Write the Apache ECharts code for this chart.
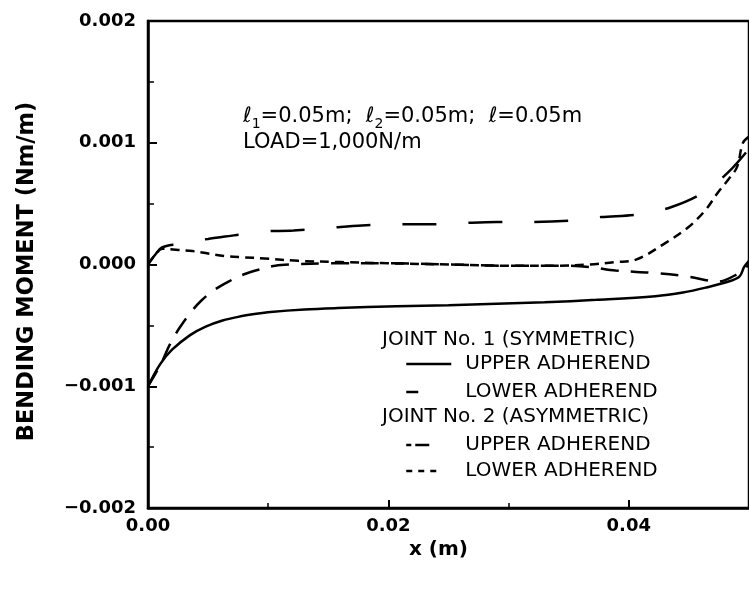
<!DOCTYPE html>
<html><head><meta charset="utf-8">
<script src="https://cdn.jsdelivr.net/npm/echarts@6/dist/echarts.min.js"></script>
<style>html,body{margin:0;padding:0;background:#fff}#c{width:749px;height:590px}</style>
</head><body><div id="c"></div>
<script>
// ---- tick labels ----
const xTickLabels = ['0.00', '0.02', '0.04'];
const yTickLabels = ['\u22120.002', '\u22120.001', '0.000', '0.001', '0.002'];

// ---- Joint No. 1 (symmetric), upper adherend ----
const j1UpperX = [0, 0.001, 0.002, 0.0035, 0.0048, 0.0062, 0.0075, 0.009, 0.0102, 0.013, 0.0158, 0.0207, 0.025, 0.029, 0.033, 0.0373, 0.0422, 0.0445, 0.0464, 0.0483, 0.0492, 0.0496, 0.05];
const j1UpperY = [-0.001, -0.00082, -0.0007, -0.00058, -0.00051, -0.00046, -0.00043, -0.000405, -0.00039, -0.00037, -0.000358, -0.000342, -0.000334, -0.000322, -0.00031, -0.00029, -0.00026, -0.00023, -0.00019, -0.00014, -0.0001, -0.00002, 0.00003];

// ---- Joint No. 1 (symmetric), lower adherend ----
const j1LowerX = [0, 0.0006, 0.00116, 0.0018, 0.00256, 0.0035, 0.0044, 0.0055, 0.0067, 0.008, 0.0093, 0.0106, 0.0119, 0.015, 0.02, 0.025, 0.03, 0.0345, 0.0367, 0.0389, 0.0422, 0.045, 0.0474, 0.049, 0.05];
const j1LowerY = [-0.001, -0.0009, -0.0008, -0.00066, -0.00053, -0.0004, -0.0003, -0.00021, -0.00014, -0.00008, -0.00004, -0.00001, 0.0, 0.00001, 0.00001, 0.0, -0.00001, -0.00001, -0.00002, -0.00005, -0.00007, -0.0001, -0.00014, -0.00008, 0.0];

// ---- Joint No. 2 (asymmetric), upper adherend ----
const j2UpperX = [0, 0.0006, 0.00116, 0.0025, 0.0036, 0.005, 0.0064, 0.008, 0.0093, 0.0121, 0.015, 0.0178, 0.0206, 0.0236, 0.026, 0.029, 0.032, 0.035, 0.0377, 0.0407, 0.0435, 0.0462, 0.0483, 0.05];
const j2UpperY = [0, 0.00008, 0.00014, 0.00017, 0.00019, 0.00021, 0.00023, 0.00025, 0.00027, 0.00028, 0.0003, 0.00032, 0.00033, 0.00033, 0.00034, 0.00035, 0.00035, 0.00036, 0.00039, 0.00041, 0.00047, 0.00059, 0.00076, 0.00095];

// ---- Joint No. 2 (asymmetric), lower adherend ----
const j2LowerX = [0, 0.0006, 0.0012, 0.0025, 0.0037, 0.005, 0.0064, 0.0078, 0.0097, 0.0125, 0.016, 0.02, 0.025, 0.03, 0.034, 0.0367, 0.0389, 0.0406, 0.0431, 0.045, 0.0464, 0.0474, 0.0483, 0.049, 0.0495, 0.05];
const j2LowerY = [0, 0.00008, 0.00013, 0.00012, 0.00011, 0.00009, 0.00007, 0.00006, 0.00005, 0.00003, 0.00002, 0.00001, 0.0, -0.00001, -0.00001, 0.0, 0.00002, 0.00004, 0.00018, 0.00031, 0.00045, 0.00059, 0.0007, 0.0008, 0.001, 0.00105];

const seriesNames = ['J1 UPPER ADHEREND', 'J1 LOWER ADHEREND', 'J2 UPPER ADHEREND', 'J2 LOWER ADHEREND'];
const legendText = ['UPPER ADHEREND', 'LOWER ADHEREND', 'UPPER ADHEREND', 'LOWER ADHEREND'];
const headings = ['JOINT No. 1 (SYMMETRIC)', 'JOINT No. 2 (ASYMMETRIC)'];
const annotation = ['=0.05m;  ', '=0.05m;  ', '=0.05m', 'LOAD=1,000N/m'];

function pairs(xs, ys) { return xs.map((x, i) => [x, ys[i]]); }

const chart = echarts.init(document.getElementById('c'), null, {renderer: 'canvas'});
const FONT = 'DejaVu Sans';
const lineBase = {type: 'line', symbol: 'none', smooth: 0.35, clip: true, color: '#000'};

function legendFor(i, top, dash) {
  return {
    orient: 'vertical', left: 405, top: top, itemWidth: 54, itemHeight: 14, padding: 0,
    selectedMode: false,
    itemStyle: {opacity: 0},
    lineStyle: {color: '#000', width: 2.5, type: dash},
    textStyle: {fontFamily: FONT, fontSize: 20, color: '#000', lineHeight: 21},
    formatter: (n) => legendText[seriesNames.indexOf(n)],
    data: [seriesNames[i]]
  };
}

chart.setOption({
  animation: false,
  backgroundColor: '#fff',
  grid: {left: 148, top: 21, right: -5, bottom: 82, show: true, borderColor: '#000', borderWidth: 2.5, backgroundColor: 'transparent'},
  xAxis: {
    type: 'value', min: 0, max: 0.05, interval: 0.02,
    name: 'x (m)', nameLocation: 'middle', nameGap: 30,
    nameTextStyle: {fontFamily: FONT, fontWeight: 'bold', fontSize: 20, color: '#000', padding: [0, 20, 0, 0]},
    axisLine: {onZero: false, lineStyle: {color: '#000', width: 2.5}},
    axisTick: {inside: true, length: 8, lineStyle: {color: '#000', width: 2}},
    minorTick: {show: true, splitNumber: 2, length: 5, lineStyle: {color: '#000', width: 1.5}},
    splitLine: {show: false},
    axisLabel: {showMaxLabel: false, margin: 9, fontFamily: FONT, fontWeight: 'bold', fontSize: 18, color: '#000',
      formatter: (v) => xTickLabels[Math.round(v / 0.02)] || ''}
  },
  yAxis: {
    type: 'value', min: -0.002, max: 0.002, interval: 0.001,
    name: 'BENDING MOMENT (Nm/m)', nameLocation: 'middle', nameGap: 109,
    nameTextStyle: {fontFamily: FONT, fontWeight: 'bold', fontSize: 22.5, color: '#000', padding: [0, 14, 0, 0]},
    axisLine: {onZero: false, lineStyle: {color: '#000', width: 2.5}},
    axisTick: {inside: true, length: 9, lineStyle: {color: '#000', width: 2}},
    minorTick: {show: true, splitNumber: 2, length: 6, lineStyle: {color: '#000', width: 1.5}},
    splitLine: {show: false},
    axisLabel: {margin: 12, fontFamily: FONT, fontWeight: 'bold', fontSize: 18, color: '#000',
      formatter: (v) => yTickLabels[Math.round((v + 0.002) / 0.001)] || ''}
  },
  legend: [
    legendFor(0, 353.5, [45, 100]),
    legendFor(1, 381.5, [12, 100]),
    legendFor(2, 434.5, [5, 4, 14, 100]),
    legendFor(3, 460.5, [6, 6, 6, 6, 6, 100])
  ],
  graphic: [
    {type: 'text', left: 243, top: 103, style: {
      text: '{l|ℓ}{s|1}{t|' + annotation[0] + '}{l|ℓ}{s|2}{t|' + annotation[1] + '}{l|ℓ}{t|' + annotation[2] + '}\n{t|' + annotation[3] + '}',
      fill: '#000', font: '21px "DejaVu Sans"',
      rich: {
        t: {fontFamily: FONT, fontSize: 21, lineHeight: 26, color: '#000'},
        l: {fontFamily: FONT, fontSize: 21, lineHeight: 26, fontStyle: 'italic', color: '#000'},
        s: {fontFamily: FONT, fontSize: 14, lineHeight: 26, padding: [14, 0, 0, 0], color: '#000'}
      }
    }},
    {type: 'text', left: 382, top: 330, style: {text: headings[0], fill: '#000', font: '20px "DejaVu Sans"'}},
    {type: 'text', left: 382, top: 407, style: {text: headings[1], fill: '#000', font: '20px "DejaVu Sans"'}}
  ],
  series: [
    Object.assign({}, lineBase, {name: seriesNames[0], data: pairs(j1UpperX, j1UpperY),
      lineStyle: {color: '#000', width: 2.5, type: 'solid'}}),
    Object.assign({}, lineBase, {name: seriesNames[1], data: pairs(j1LowerX, j1LowerY),
      lineStyle: {color: '#000', width: 2.5, type: [18, 12]}}),
    Object.assign({}, lineBase, {name: seriesNames[2], data: pairs(j2UpperX, j2UpperY),
      lineStyle: {color: '#000', width: 2.5, type: [34, 32]}}),
    Object.assign({}, lineBase, {name: seriesNames[3], data: pairs(j2LowerX, j2LowerY),
      lineStyle: {color: '#000', width: 2.5, type: [9, 6]}})
  ]
});
</script>
</body></html>
